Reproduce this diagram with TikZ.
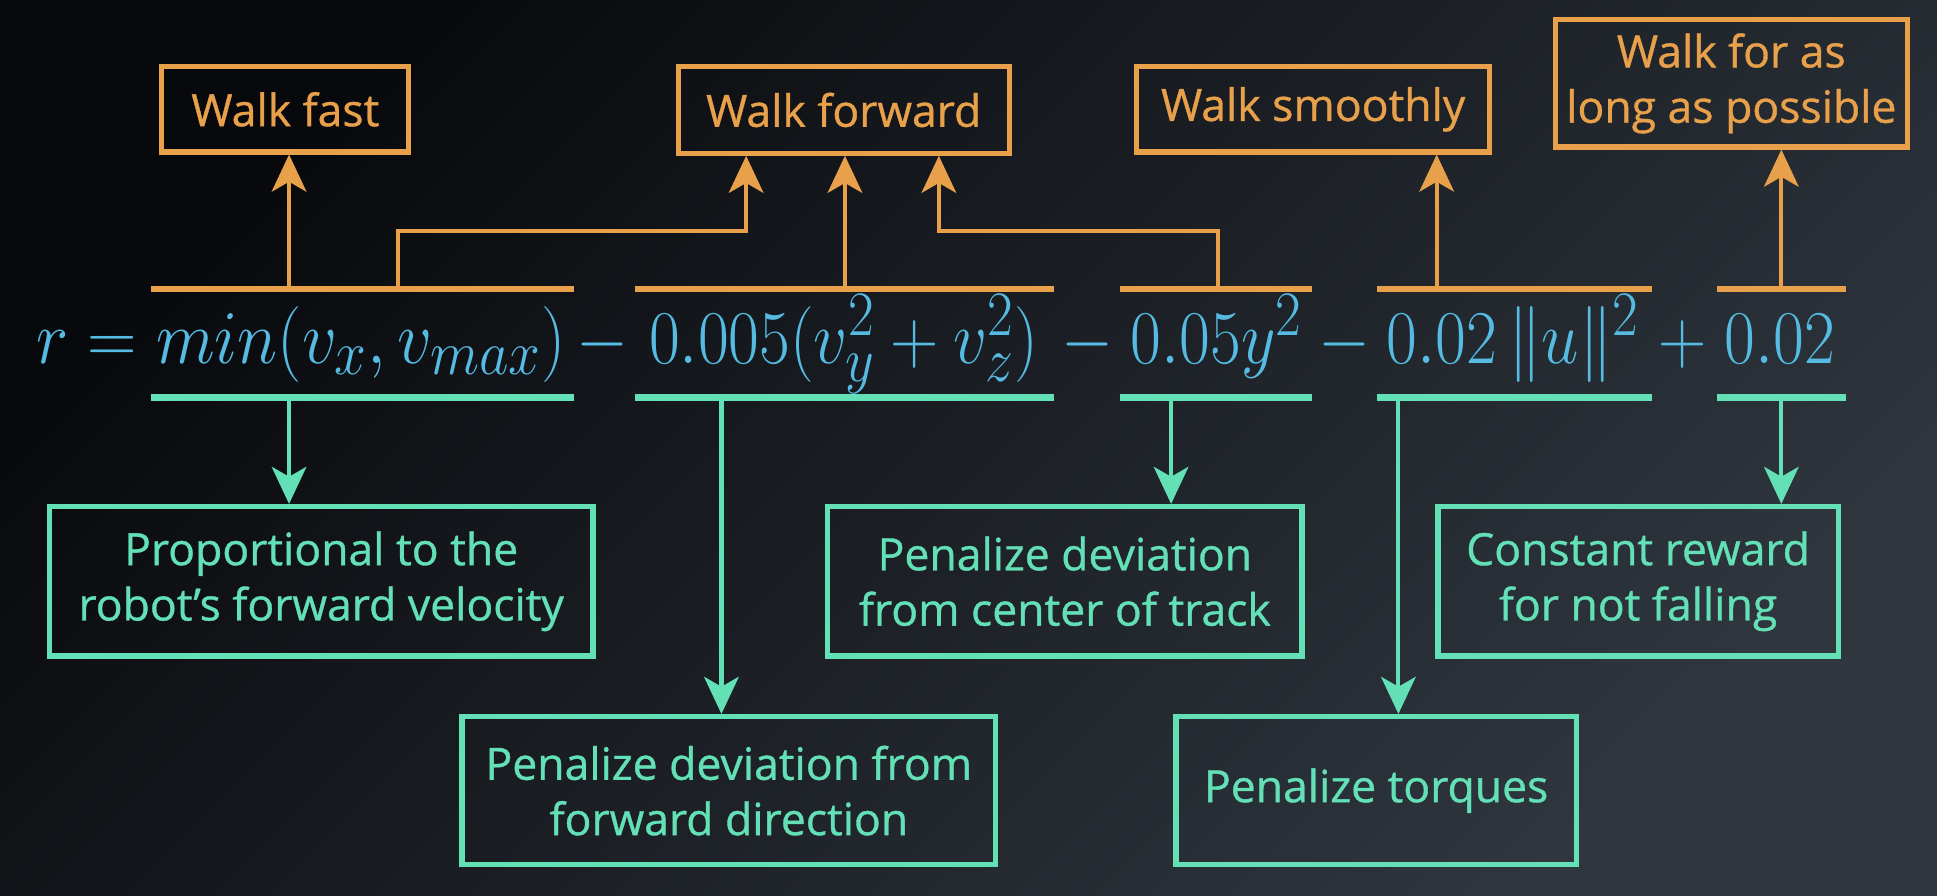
\documentclass[tikz,border=0pt]{standalone}
\usepackage{graphicx}
\usepackage{fontspec}
\setmainfont{Open Sans}
\newfontfamily\labfont{Open Sans}[FakeBold=0.8]
\usetikzlibrary{arrows.meta,calc}
\definecolor{org}{HTML}{E8A14A}
\definecolor{tea}{HTML}{63E0B6}
\definecolor{mblue}{HTML}{55BBE2}
\definecolor{bgA}{HTML}{08090C}
\definecolor{bgB}{HTML}{2F363E}
\newcommand{\fm}[2][1.24]{\scalebox{#1}[1.407]{$#2$}}
\begin{document}
\begin{tikzpicture}[x=0.02cm,y=-0.02cm,
  obox/.style={draw=org, line width=2.4pt, inner sep=0pt, text=org, align=center, font=\labfont\fontsize{20.5}{25.5}\selectfont},
  tbox/.style={draw=tea, line width=2.4pt, inner sep=0pt, text=tea, align=center, font=\labfont\fontsize{20.5}{25.5}\selectfont},
  oarr/.style={draw=org, line width=1.9pt, -{Stealth[length=0.6cm,width=0.56cm,inset=0.16cm]}},
  tarr/.style={draw=tea, line width=1.9pt, -{Stealth[length=0.6cm,width=0.56cm,inset=0.16cm]}},
  obar/.style={draw=org, line width=3.1pt},
  tbar/.style={draw=tea, line width=3.1pt},
  mth/.style={text=mblue, anchor=base, inner sep=0pt, font=\Huge}
]
\useasboundingbox (0,0) rectangle (1568,725);
\shade[top color=bgA, bottom color=bgB, shading angle=45] (0,0) rectangle (1568,725);

% goal boxes
\node[obox, minimum width=4cm, minimum height=1.38cm] (wf) at (231,88.5) {Walk fast};
\node[obox, minimum width=5.36cm, minimum height=1.40cm] (wfw) at (683,89) {Walk forward};
\node[obox, minimum width=5.72cm, minimum height=1.38cm] (ws) at (1063,88.5) {Walk smoothly};
\node[obox, minimum width=5.70cm, minimum height=2.06cm] (wl) at (1401.5,67.5) {Walk for as\\long as possible};

% description boxes
\node[tbox, minimum width=8.8cm, minimum height=2.42cm] (p1) at (260,470.5) {Proportional to the\\robot’s forward velocity};
\node[tbox, minimum width=8.64cm, minimum height=2.40cm] (p2) at (590,640) {Penalize deviation from\\forward direction};
\node[tbox, minimum width=7.68cm, minimum height=2.42cm] (p3) at (862,470.5) {Penalize deviation\\from center of track};
\node[tbox, minimum width=6.48cm, minimum height=2.40cm] (p4) at (1114,640) {Penalize torques};
\node[tbox, minimum width=6.48cm, minimum height=2.42cm] (p5) at (1326,470.5) {Constant reward\\for not falling};

% formula
\node[mth] (m1) at (244,294) {\fm[1.27]{r = min(v_x, v_{max})}};
\node[mth] (s1) at (488,294) {\fm{-}};
\node[mth] (m2) at (683,294) {\fm{0.005(v_y^2+v_z^2)}};
\node[mth] (s2) at (880,294) {\fm{-}};
\node[mth] (m3) at (985,294) {\fm{0.05y^2}};
\node[mth] (s3) at (1088,294) {\fm{-}};
\node[mth] (m4) at (1225,294) {\fm{0.02\,\|u\|^2}};
\node[mth] (s4) at (1362,294) {\fm{+}};
\node[mth] (m5) at (1441,294) {\fm{0.02}};

% bars
\draw[obar] (122,234) -- (465,234);
\draw[obar] (514,234) -- (853,234);
\draw[obar] (907,234) -- (1062,234);
\draw[obar] (1115,234) -- (1337,234);
\draw[obar] (1390,234) -- (1494,234);
\draw[tbar] (122,322) -- (465,322);
\draw[tbar] (514,322) -- (853,322);
\draw[tbar] (907,322) -- (1062,322);
\draw[tbar] (1115,322) -- (1337,322);
\draw[tbar] (1390,322) -- (1494,322);

% connector points
\coordinate (o1) at (234,234);
\coordinate (o1b) at (322,234);
\coordinate (o2) at (684,234);
\coordinate (o3) at (986,234);
\coordinate (o4) at (1163,234);
\coordinate (o5) at (1442,234);
\coordinate (lvl) at (0,187);
\coordinate (f1) at (604,0);
\coordinate (f3) at (760,0);
\coordinate (t1) at (234,322);
\coordinate (t2) at (584,322);
\coordinate (t3) at (948,322);
\coordinate (t4) at (1132,322);
\coordinate (t5) at (1442,322);

\draw[oarr] (o1) -- (o1 |- wf.south);
\draw[oarr] (o1b) -- (o1b |- lvl) -| (f1 |- wfw.south);
\draw[oarr] (o2) -- (o2 |- wfw.south);
\draw[oarr] (o3) -- (o3 |- lvl) -| (f3 |- wfw.south);
\draw[oarr] (o4) -- (o4 |- ws.south);
\draw[oarr] (o5) -- (o5 |- wl.south);

\draw[tarr] (t1) -- (t1 |- p1.north);
\draw[tarr] (t2) -- (t2 |- p2.north);
\draw[tarr] (t3) -- (t3 |- p3.north);
\draw[tarr] (t4) -- (t4 |- p4.north);
\draw[tarr] (t5) -- (t5 |- p5.north);
\end{tikzpicture}
\end{document}
